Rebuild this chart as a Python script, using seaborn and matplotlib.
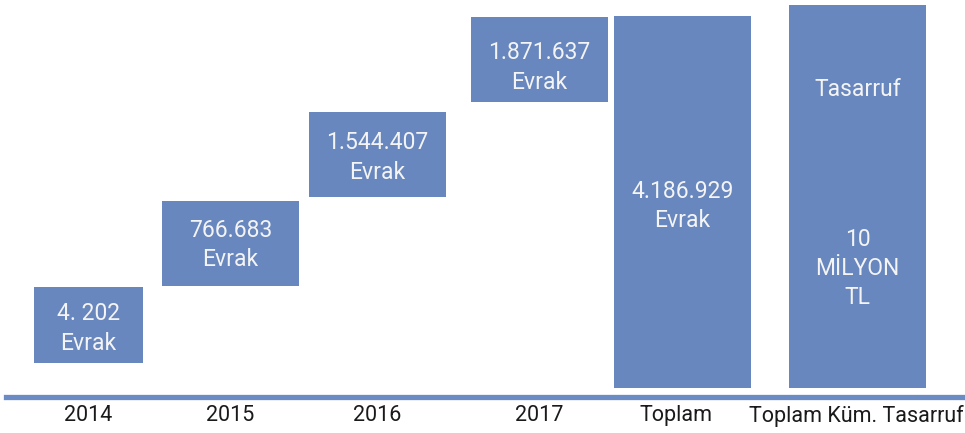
import seaborn as sns
import matplotlib.pyplot as plt

# Categories and bar texts
categories = ['2014', '2015', '2016', '2017', 'Toplam', 'Toplam Küm. Tasarruf']
bar_texts = ['4. 202\nEvrak', '766.683\nEvrak', '1.544.407\nEvrak',
             '1.871.637\nEvrak', '4.186.929\nEvrak', '10\nMİLYON\nTL']

# Floating bar extents (chart units)
bar_bottoms = [34, 111, 200, 295, 9, 9]
bar_tops = [110, 196, 285, 380, 381, 392]

# Layout
x_centers = [88.5, 230.5, 377.5, 539.5, 682.5, 857.5]
bar_widths = [109, 137, 137, 137, 137, 137]
label_x = [88.5, 230.5, 377.5, 539.5, 676, 856]
text_y_offsets = [-4, -2, -3.5, -8.5, -4.5, -72.5]

bar_color = '#6787BE'
text_color = '#F4F4F4'

sns.set_theme(style='white')
plt.rcParams['font.family'] = ['Roboto', 'DejaVu Sans']

W, H = 965, 433
fig = plt.figure(figsize=(W / 100, H / 100), dpi=100)
ax = fig.add_axes([6 / W, 36.5 / H, (W - 6) / W, 396.5 / H])
ax.set_xlim(6, W)
ax.set_ylim(0, 396.5)

heights = [t - b for t, b in zip(bar_tops, bar_bottoms)]
ax.bar(x_centers, heights, width=bar_widths, bottom=bar_bottoms,
       color=bar_color, linewidth=0, zorder=2)

for x, b, t, txt, dy in zip(x_centers, bar_bottoms, bar_tops, bar_texts, text_y_offsets):
    ax.text(x, (b + t) / 2 + dy, txt, ha='center', va='center',
            color=text_color, fontsize=16.5, linespacing=1.35, zorder=3)

# Extra heading inside the savings bar
ax.text(x_centers[-1], 307.5, 'Tasarruf', ha='center', va='center',
        color=text_color, fontsize=16.5, zorder=3)

ax.set_xticks(label_x)
ax.set_xticklabels(categories, fontsize=15.5, color='#1A1A1A')
ax.tick_params(axis='x', length=0, pad=6)
ax.set_yticks([])

for side in ['top', 'right', 'left']:
    ax.spines[side].set_visible(False)
ax.spines['bottom'].set_color('#6A8BC4')
ax.spines['bottom'].set_linewidth(3.8)
ax.spines['bottom'].set_zorder(1)

fig.savefig('out.png', dpi=100)
